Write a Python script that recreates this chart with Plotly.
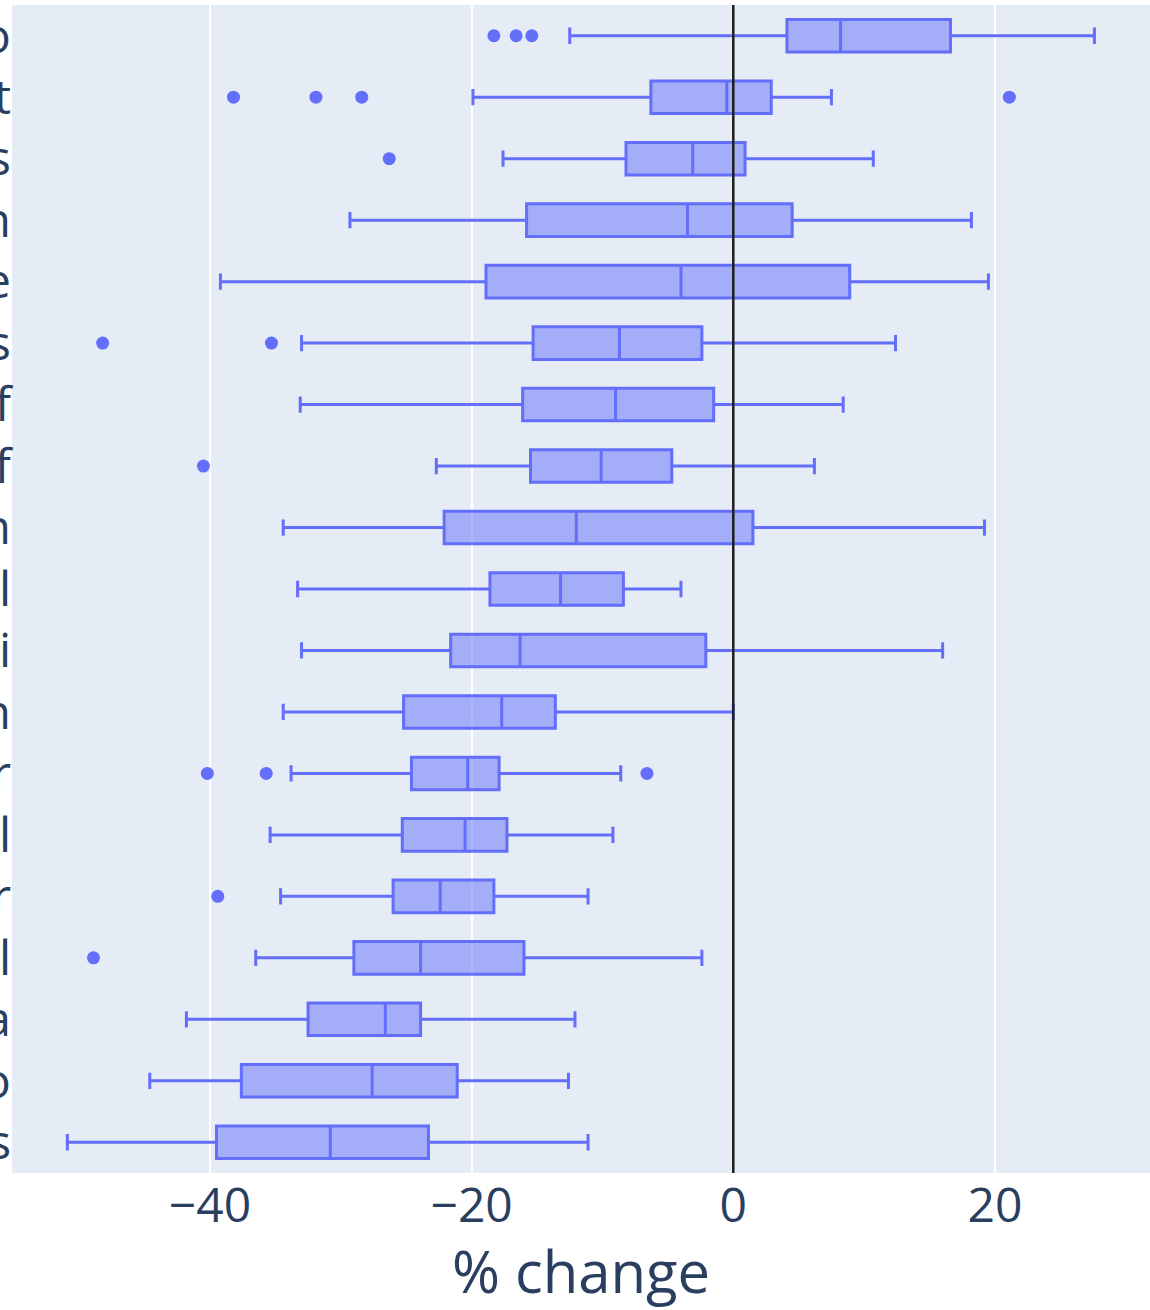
import plotly.graph_objects as go

# Categories listed top to bottom (only the last letter is visible in the crop)
categories = ["Video", "Transport", "Utilities", "Construction", "Real estate",
              "Financial services", "Support staff", "Golf", "Education",
              "Apparel", "Taxi", "Aviation", "Motor", "Travel", "Theater",
              "Hotel", "Cinema", "Casino", "Concerts"]

lower_fence = [-12.5, -19.9, -17.6, -29.3, -39.2, -33.0, -33.1, -22.7, -34.4,
               -33.3, -33.0, -34.4, -33.8, -35.4, -34.6, -36.5, -41.8, -44.6, -50.9]
q1 = [4.1, -6.3, -8.2, -15.8, -18.9, -15.3, -16.1, -15.5, -22.1,
      -18.6, -21.6, -25.2, -24.6, -25.3, -26.0, -29.0, -32.5, -37.6, -39.5]
median = [8.2, -0.5, -3.1, -3.5, -4.0, -8.7, -9.0, -10.1, -12.0,
          -13.2, -16.3, -17.7, -20.3, -20.5, -22.4, -23.9, -26.6, -27.6, -30.8]
q3 = [16.6, 2.9, 0.9, 4.5, 8.9, -2.4, -1.5, -4.7, 1.5,
      -8.4, -2.1, -13.6, -17.9, -17.3, -18.3, -16.0, -23.9, -21.1, -23.3]
upper_fence = [27.6, 7.5, 10.7, 18.2, 19.5, 12.4, 8.4, 6.2, 19.2,
               -4.0, 16.0, 0.0, -8.6, -9.2, -11.1, -2.4, -12.1, -12.6, -11.1]

# Outliers: (category, value)
outlier_cat = ["Video", "Video", "Video",
               "Transport", "Transport", "Transport", "Transport",
               "Utilities",
               "Financial services", "Financial services",
               "Golf",
               "Motor", "Motor", "Motor",
               "Theater",
               "Hotel"]
outlier_val = [-18.3, -16.6, -15.4,
               -38.2, -31.9, -28.4, 21.1,
               -26.3,
               -48.2, -35.3,
               -40.5,
               -40.2, -35.7, -6.6,
               -39.4,
               -48.9]

color = "#636efa"

fig = go.Figure()
fig.add_trace(go.Box(
    y=categories, q1=q1, median=median, q3=q3,
    lowerfence=lower_fence, upperfence=upper_fence,
    orientation="h", boxpoints=False,
    marker_color=color, line=dict(color=color, width=3),
    fillcolor="rgba(99,110,250,0.5)", showlegend=False,
))
fig.add_trace(go.Scatter(
    x=outlier_val, y=outlier_cat, mode="markers",
    marker=dict(color=color, size=13), showlegend=False,
))
fig.add_vline(x=0, line_color="#1e1e1e", line_width=2.5)

fig.update_layout(
    width=1150, height=1310,
    template="plotly",
    margin=dict(l=12, r=0, t=5, b=137),
    boxgap=0.47, boxgroupgap=0,
    font=dict(family="Open Sans", size=48, color="#2a3f5f"),
    plot_bgcolor="#E5ECF6",
    paper_bgcolor="white",
    showlegend=False,
)
fig.update_xaxes(range=[-55.13, 31.85], tickvals=[-40, -20, 0, 20],
                 title=dict(text="% change", font=dict(size=58), standoff=26),
                 automargin=False, gridcolor="white", gridwidth=2, zeroline=False)
fig.update_yaxes(categoryorder="array", categoryarray=categories[::-1],
                 range=[-0.5, len(categories) - 0.5], autorange=False,
                 showgrid=False, automargin=False, ticks="")

fig.write_html("out.html", config={"displayModeBar": False},
               post_script="document.body.style.margin='0px';")
